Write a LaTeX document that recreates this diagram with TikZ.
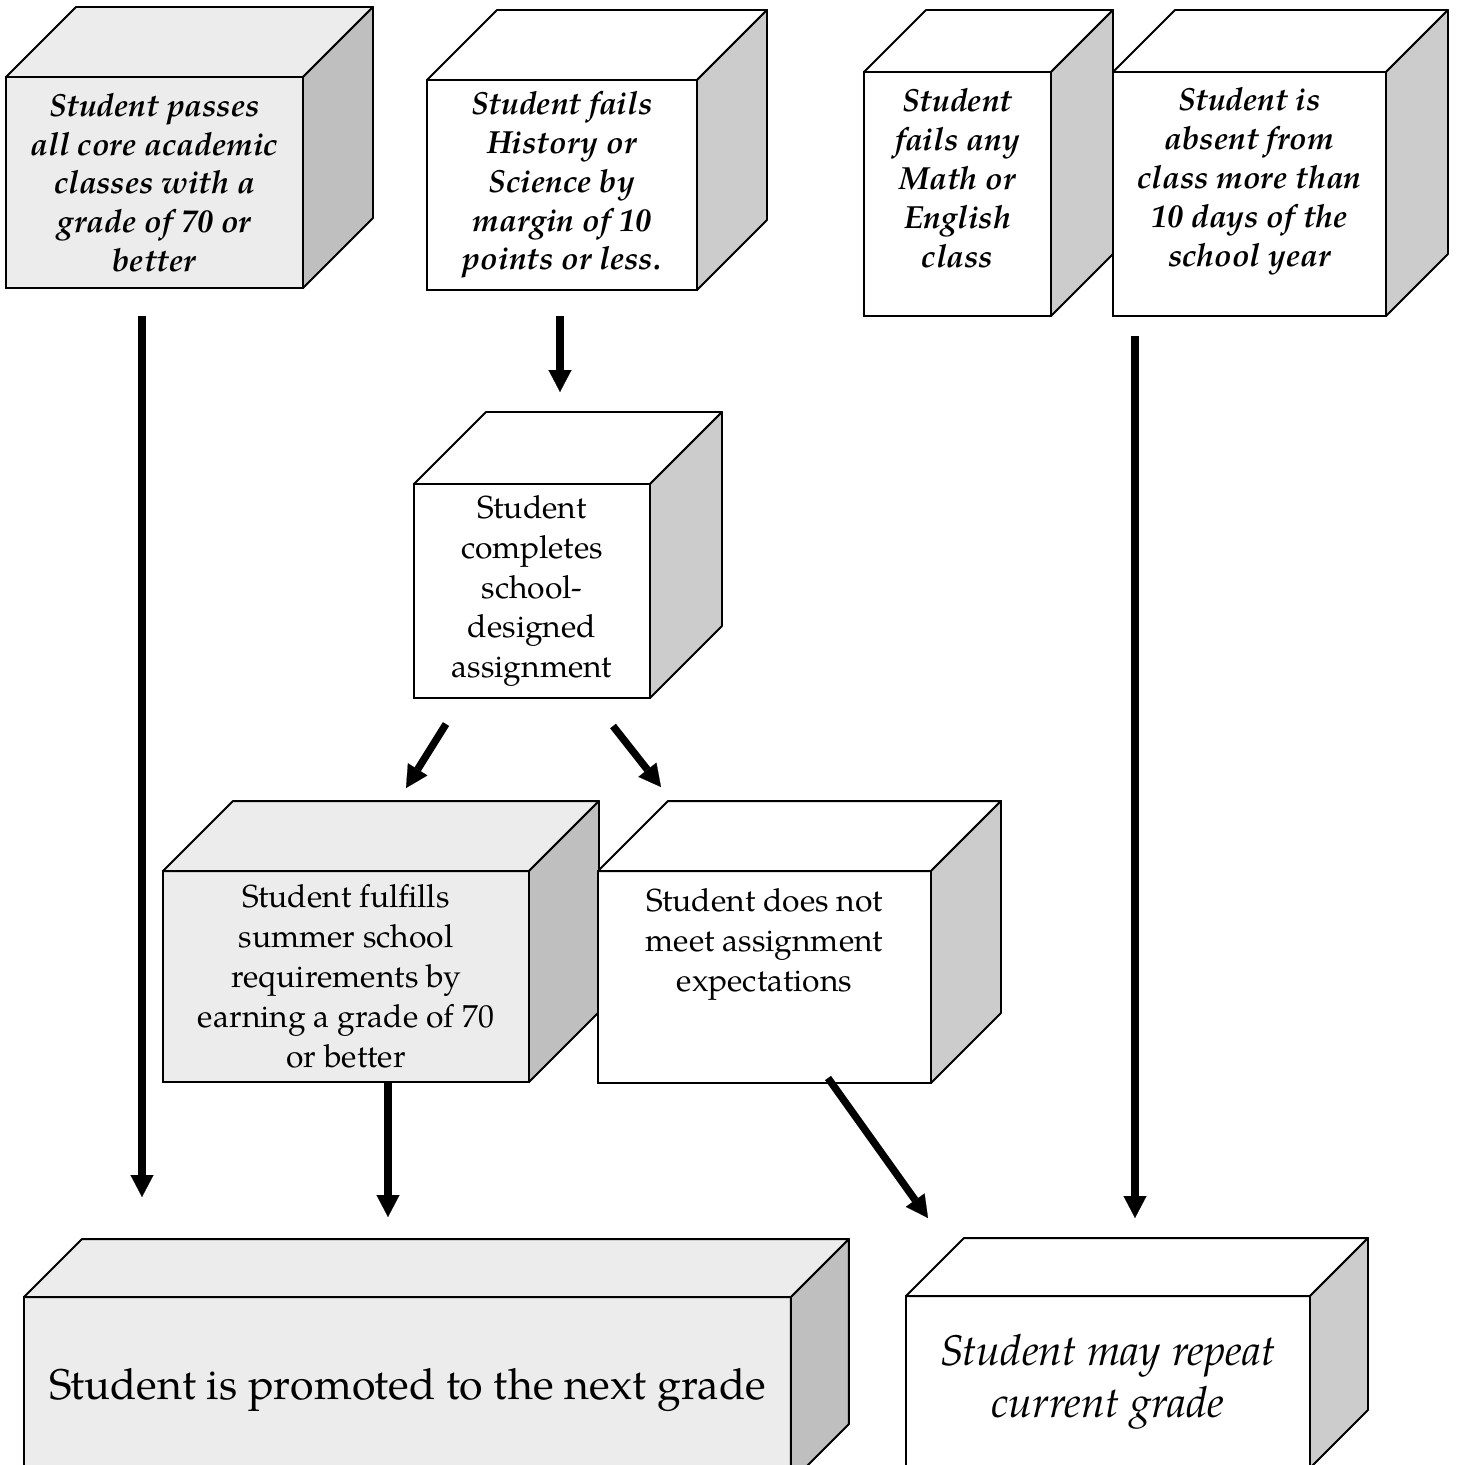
\documentclass[tikz,border=0pt]{standalone}
\usepackage{fontspec}
\setmainfont{texgyrepagella}[Extension=.otf, UprightFont=*-regular, ItalicFont=*-italic, BoldFont=*-bold, BoldItalicFont=*-bolditalic]
\usetikzlibrary{arrows.meta}

\definecolor{boxgray}{gray}{0.925}
\definecolor{sidegray}{gray}{0.75}
\definecolor{sidelight}{gray}{0.8}

% top and right faces of a box drawn on a front node
\newcommand{\boxsides}[4]{%
  \filldraw[fill=#3, line width=1.1pt, line join=round] (#1.north west) -- ++(#2,-#2) -- ([shift={(#2,-#2)}]#1.north east) -- (#1.north east) -- cycle;
  \filldraw[fill=#4, line width=1.1pt, line join=round] (#1.north east) -- ++(#2,-#2) -- ([shift={(#2,-#2)}]#1.south east) -- (#1.south east) -- cycle;
}

\tikzset{
  face/.style={draw, line width=1.1pt, rectangle, outer sep=0pt, inner sep=2pt, align=center},
  cond/.style={face, fill=white, font=\bfseries\itshape\fontsize{18.2}{22.1}\selectfont},
  stage/.style={face, fill=white, font=\fontsize{18.1}{22.7}\selectfont},
  outcome/.style={face, fill=white, font=\fontsize{24.4}{29.5}\selectfont},
  flow/.style={line width=4.2pt, -{Triangle[width=0.46cm,length=0.44cm,line width=0.1pt]}},
}

\begin{document}
\begin{tikzpicture}[x=0.02cm,y=-0.02cm]
\clip (0,0) rectangle (1458,1465);
\useasboundingbox (0,0) rectangle (1458,1465);

% conditions
\node[cond, fill=boxgray, minimum width=5.94cm, minimum height=4.22cm] (pass) at (154.5,182.5)
  {Student passes\\all core academic\\classes with a\\grade of 70 or\\better};
\boxsides{pass}{70}{boxgray}{sidegray}
\node[cond, minimum width=5.4cm, minimum height=4.2cm] (hist) at (562,185)
  {Student fails\\History or\\Science by\\margin of 10\\points or less.};
\boxsides{hist}{70}{white}{sidelight}
\node[cond, minimum width=3.74cm, minimum height=4.88cm, text depth=0.64cm] (math) at (957.5,194)
  {Student\\fails any\\Math or\\English\\class};
\boxsides{math}{62}{white}{sidelight}
\node[cond, minimum width=5.46cm, minimum height=4.88cm, text depth=0.68cm] (absent) at (1249.5,194)
  {Student is\\absent from\\class more than\\10 days of the\\school year};
\boxsides{absent}{62}{white}{sidelight}

% assignment and its results
\node[stage, minimum width=4.72cm, minimum height=4.28cm] (assign) at (532,591)
  {Student\\completes\\school-\\designed\\assignment};
\boxsides{assign}{72}{white}{sidelight}
\node[stage, fill=boxgray, minimum width=7.32cm, minimum height=4.22cm, text depth=0.02cm] (summer) at (346,976.5)
  {Student fulfills\\summer school\\requirements by\\earning a grade of 70\\or better};
\boxsides{summer}{70}{boxgray}{sidegray}
\node[stage, minimum width=6.66cm, minimum height=4.24cm, text depth=1.48cm] (notmet) at (764.5,977)
  {Student does not\\meet assignment\\expectations};
\boxsides{notmet}{70}{white}{sidelight}

% outcomes
\node[outcome, fill=boxgray, minimum width=15.34cm, minimum height=3.7cm] (promo) at (407.5,1389.5)
  {Student is promoted to the next grade};
\boxsides{promo}{58}{boxgray}{sidegray}
\node[outcome, font=\itshape\fontsize{24.4}{29.5}\selectfont, minimum width=8.08cm, minimum height=3.44cm] (repeat) at (1108,1382)
  {Student may repeat\\current grade};
\boxsides{repeat}{58}{white}{sidelight}

% arrow ends
\coordinate (passout) at (142,316);
\coordinate (passin) at (142,1197);
\coordinate (histout) at (560,316);
\coordinate (histin) at (560,392);
\coordinate (leftout) at (446,724);
\coordinate (leftin) at (406,788);
\coordinate (rightout) at (613,726);
\coordinate (rightin) at (661,787);
\coordinate (summerout) at (388,1083);
\coordinate (summerin) at (388,1217);
\coordinate (notmetout) at (828,1078);
\coordinate (notmetin) at (928,1218);
\coordinate (absentout) at (1135,336);
\coordinate (absentin) at (1135,1218);

\draw[flow] (passout) -- (passin);
\draw[flow] (histout) -- (histin);
\draw[flow] (leftout) -- (leftin);
\draw[flow] (rightout) -- (rightin);
\draw[flow] (summerout) -- (summerin);
\draw[flow] (notmetout) -- (notmetin);
\draw[flow] (absentout) -- (absentin);
\end{tikzpicture}
\end{document}
